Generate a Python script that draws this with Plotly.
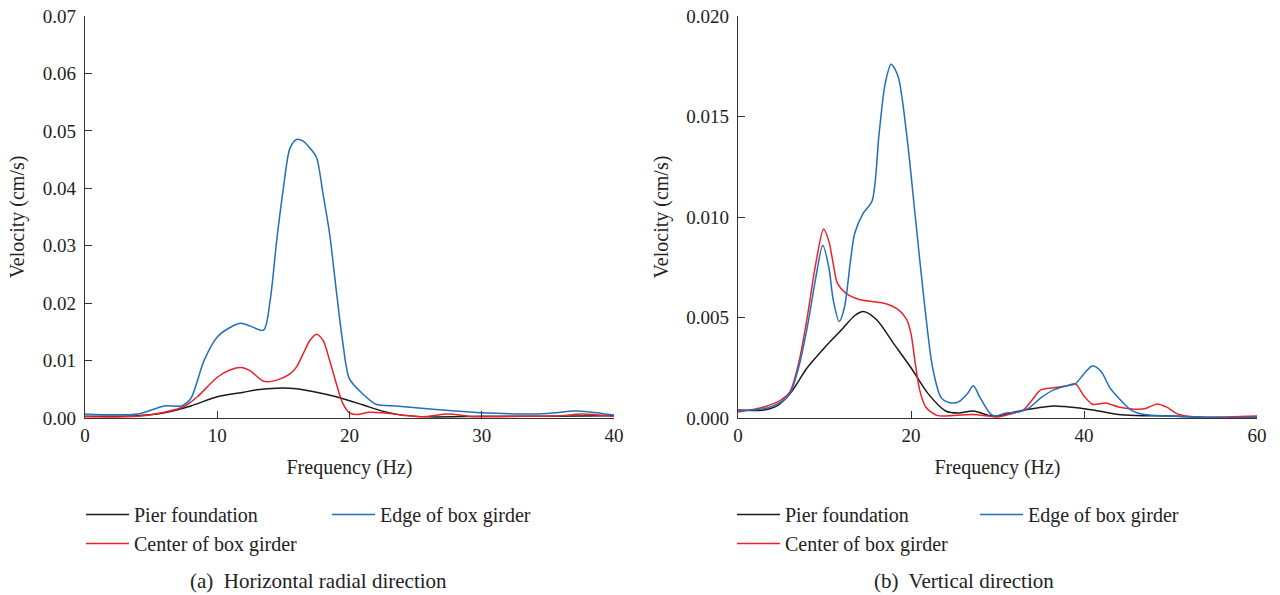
import plotly.graph_objects as go

W, H = 1280, 595

# ---------------- data: (a) horizontal radial direction ----------------
h_pier_x = [0, 4, 6, 8, 10, 12, 13, 14.5, 16, 17.5, 19, 21, 22.5, 24, 26, 30, 35, 40]
h_pier_y = [0.0003, 0.0004, 0.0009, 0.0021, 0.0037, 0.0045, 0.0049, 0.0052, 0.0051, 0.0045,
            0.0037, 0.0023, 0.0012, 0.0005, 0.0002, 0.0003, 0.0003, 0.0004]

h_center_x = [0, 4, 6, 7.5, 8.5, 10, 11, 11.8, 12.5, 13.5, 14.5, 15.5, 16, 16.5, 17, 17.5, 18,
              18.5, 19, 19.5, 20, 20.5, 21.5, 22.5, 24, 25.5, 27.5, 29, 30, 33, 36, 37.5, 40]
h_center_y = [0.0002, 0.0003, 0.0010, 0.0020, 0.0037, 0.0071, 0.0084, 0.0088, 0.0082, 0.0064,
              0.0066, 0.0077, 0.0089, 0.0112, 0.0135, 0.0146, 0.0135, 0.0100, 0.0060, 0.0025,
              0.0009, 0.0006, 0.0010, 0.0009, 0.0005, 0.0002, 0.0007, 0.0003, 0.0002, 0.0003,
              0.0004, 0.0007, 0.0003]

h_edge_x = [0, 4, 6, 7.3, 8, 9, 10, 11, 11.8, 12.5, 13.5, 14, 14.5, 15, 15.5, 16, 16.5, 17,
            17.5, 18, 18.5, 19, 19.5, 20, 21, 22, 23.5, 25, 28, 30, 33, 35, 37, 38, 40]
h_edge_y = [0.0007, 0.0007, 0.0021, 0.0021, 0.0034, 0.0100, 0.0141, 0.0158, 0.0165, 0.0160,
            0.0153, 0.0205, 0.0310, 0.0400, 0.0470, 0.0485, 0.0482, 0.0470, 0.0454, 0.0390,
            0.0320, 0.0222, 0.0130, 0.0068, 0.0042, 0.0024, 0.0021, 0.0018, 0.0012, 0.0009,
            0.0007, 0.0008, 0.0012, 0.0011, 0.0005]

# ---------------- data: (b) vertical direction ----------------
v_pier_x = [0, 3, 4.5, 6, 8, 10, 12, 13.5, 14.5, 16, 18, 20, 22, 24, 25.5, 27.2, 29, 30, 32,
            34, 36.5, 38, 41, 44, 46, 50, 55, 60]
v_pier_y = [0.0004, 0.0004, 0.0006, 0.0012, 0.0025, 0.0035, 0.0044, 0.0051, 0.0053, 0.0049,
            0.0037, 0.0025, 0.0012, 0.00035, 0.00025, 0.00035, 0.00013, 0.0001, 0.0003,
            0.00046, 0.0006, 0.00056, 0.0004, 0.00017, 0.00012, 0.0001, 0.00002, 0.00005]

v_center_x = [0, 3, 5, 6, 7, 8, 9, 9.9, 10.5, 11, 11.5, 12.5, 14, 15.5, 17, 18.5, 19.5, 20,
              20.5, 21, 21.7, 23, 25, 27, 29, 30, 31.5, 33, 34, 35, 36.5, 38, 39, 40, 41,
              42.5, 44, 45.5, 47, 48.5, 49.5, 51, 53, 60]
v_center_y = [0.0003, 0.00055, 0.0009, 0.0013, 0.0027, 0.0050, 0.0077, 0.0094, 0.0088,
              0.0077, 0.0067, 0.0062, 0.0059, 0.0058, 0.0057, 0.0054, 0.0049, 0.0042, 0.0027,
              0.0014, 0.00055, 0.00013, 0.00013, 0.00018, 0.0001, 0.00005, 0.0002, 0.0004,
              0.0009, 0.0014, 0.0015, 0.0016, 0.0017, 0.0011, 0.00068, 0.00075, 0.00055,
              0.00045, 0.00046, 0.0007, 0.00055, 0.00017, 0.00005, 0.0001]

v_edge_x = [0, 3, 5, 6, 7, 8, 9, 9.8, 10.5, 11, 11.7, 12.3, 13, 13.5, 14.5, 15.5, 16.3, 17,
            17.7, 18.5, 19.5, 20.5, 21.5, 22.5, 23.5, 24.5, 25.5, 26.5, 27.2, 28, 29, 29.6,
            31, 32, 33.5, 35, 36.5, 38, 39, 40, 41, 42, 43, 44, 45.5, 47, 50, 55, 60]
v_edge_y = [0.00038, 0.00046, 0.0008, 0.0012, 0.0025, 0.0045, 0.0070, 0.0086, 0.0075,
            0.0059, 0.0048, 0.0055, 0.0078, 0.0092, 0.0102, 0.0108, 0.0141, 0.0166, 0.0176,
            0.0170, 0.0141, 0.0100, 0.0059, 0.0025, 0.0010, 0.00076, 0.0008, 0.0012, 0.0016,
            0.0010, 0.0003, 0.0001, 0.00025, 0.00027, 0.00046, 0.0010, 0.0014, 0.0016,
            0.0017, 0.0022, 0.0026, 0.0023, 0.0015, 0.0010, 0.00038, 0.00017, 0.0001,
            0.00002, 0.00002]

h_yticks = [0.00, 0.01, 0.02, 0.03, 0.04, 0.05, 0.06, 0.07]
h_yticklabels = ["0.00", "0.01", "0.02", "0.03", "0.04", "0.05", "0.06", "0.07"]
h_xticks = [0, 10, 20, 30, 40]
v_yticks = [0.000, 0.005, 0.010, 0.015, 0.020]
v_yticklabels = ["0.000", "0.005", "0.010", "0.015", "0.020"]
v_xticks = [0, 20, 40, 60]

names = ["Pier foundation", "Center of box girder", "Edge of box girder"]
colors = ["#1a1a1a", "#e8232a", "#1f6fbd"]

FONT = "Liberation Serif"


def px(x):  # page x (px) -> paper fraction
    return x / W


def py(y):  # page y (px, from top) -> paper fraction
    return 1 - y / H


fig = go.Figure()


def add(x, y, name, color, xa, ya, legend):
    fig.add_trace(go.Scatter(
        x=x, y=y, mode="lines", name=name, xaxis=xa, yaxis=ya, legend=legend,
        line=dict(color=color, width=1.5, shape="spline", smoothing=0.8),
        hoverinfo="x+y+name"))


add(h_pier_x, h_pier_y, names[0], colors[0], "x", "y", "legend")
add(h_center_x, h_center_y, names[1], colors[1], "x", "y", "legend")
add(h_edge_x, h_edge_y, names[2], colors[2], "x", "y", "legend2")
add(v_pier_x, v_pier_y, names[0], colors[0], "x2", "y2", "legend3")
add(v_center_x, v_center_y, names[1], colors[1], "x2", "y2", "legend3")
add(v_edge_x, v_edge_y, names[2], colors[2], "x2", "y2", "legend4")

ydom = [py(418), py(16)]
axis_common = dict(
    showline=True, linecolor="#333333", linewidth=1.2, ticks="inside", ticklen=7,
    tickwidth=1.2, tickcolor="#333333", showgrid=False, zeroline=False, automargin=False,
    ticklabeloverflow="allow",
    tickfont=dict(family=FONT, size=19, color="#222222"),
)
title_font = dict(family=FONT, size=20, color="#222222")

fig.update_layout(
    width=W, height=H,
    margin=dict(l=0, r=0, t=0, b=0, autoexpand=False),
    paper_bgcolor="white", plot_bgcolor="white",
    font=dict(family=FONT, color="#222222"),
    xaxis=dict(domain=[px(85), px(614)], range=[0, 40], tickvals=h_xticks,
               title=dict(text="Frequency (Hz)", font=title_font, standoff=15),
               anchor="y", **axis_common),
    yaxis=dict(domain=ydom, range=[0, 0.07], tickvals=h_yticks, ticktext=h_yticklabels,
               title=dict(text="Velocity (cm/s)", font=title_font, standoff=12),
               anchor="x", ticklabelstandoff=4, **axis_common),
    xaxis2=dict(domain=[px(738), px(1257)], range=[0, 60], tickvals=v_xticks,
                title=dict(text="Frequency (Hz)", font=title_font, standoff=15),
                anchor="y2", **axis_common),
    yaxis2=dict(domain=ydom, range=[0, 0.020], tickvals=v_yticks, ticktext=v_yticklabels,
                title=dict(text="Velocity (cm/s)", font=title_font, standoff=12),
                anchor="x2", ticklabelstandoff=4, **axis_common),
)

leg_common = dict(xanchor="left", yanchor="top", bgcolor="rgba(0,0,0,0)",
                  font=dict(family=FONT, size=20, color="#222222"), itemwidth=43,
                  orientation="v", tracegroupgap=0)
ly = py(495)
fig.update_layout(
    legend=dict(x=px(81), y=ly, **leg_common),
    legend2=dict(x=px(327), y=ly, **leg_common),
    legend3=dict(x=px(732), y=ly, **leg_common),
    legend4=dict(x=px(975), y=ly, **leg_common),
)

cap_font = dict(family=FONT, size=21, color="#222222")
fig.add_annotation(x=px(318), y=py(581), xref="paper", yref="paper", xanchor="center",
                   yanchor="middle", text="(a)  Horizontal radial direction",
                   showarrow=False, font=cap_font)
fig.add_annotation(x=px(964), y=py(581), xref="paper", yref="paper", xanchor="center",
                   yanchor="middle", text="(b)  Vertical direction",
                   showarrow=False, font=cap_font)

# remove the default page margin so the figure fills the 1280x595 window exactly
fig.write_html("out.html", config={"displayModeBar": False},
               post_script="document.body.style.margin='0';document.body.style.overflow='hidden';")
